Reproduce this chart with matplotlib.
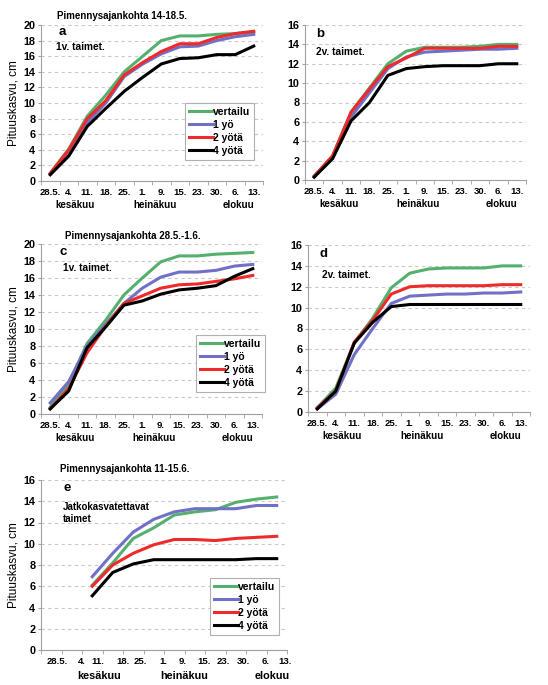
import numpy as np
import matplotlib.pyplot as plt

plt.rcParams['font.family'] = ['Liberation Sans', 'DejaVu Sans']
plt.rcParams['font.weight'] = 'bold'

dates = ['28.5.', '4.', '11.', '18.', '25.', '1.', '9.', '15.', '23.', '30.', '6.', '13.']
months = ['kesäkuu', 'heinäkuu', 'elokuu']
names = ['vertailu', '1 yö', '2 yötä', '4 yötä']
colors = ['#55b06e', '#7070c6', '#ee2a2a', '#000000']

# a: 14-18.5., 1v. taimet
a_vertailu = [1.0, 4.1, 8.3, 11.0, 14.0, 16.0, 18.0, 18.6, 18.6, 18.8, 18.9, 19.1]
a_1yo = [0.9, 3.8, 7.5, 10.0, 13.4, 15.0, 16.3, 17.2, 17.3, 18.0, 18.5, 18.8]
a_2yota = [1.0, 4.0, 8.0, 10.3, 13.6, 15.2, 16.6, 17.6, 17.6, 18.4, 18.9, 19.2]
a_4yota = [0.8, 3.2, 7.0, 9.3, 11.5, 13.3, 15.0, 15.7, 15.8, 16.2, 16.2, 17.3]

# b: 14-18.5., 2v. taimet
b_vertailu = [0.3, 2.5, 7.0, 9.5, 12.0, 13.3, 13.7, 13.7, 13.7, 13.8, 14.0, 14.0]
b_1yo = [0.4, 2.4, 6.5, 9.0, 11.5, 12.7, 13.2, 13.3, 13.4, 13.5, 13.5, 13.6]
b_2yota = [0.4, 2.5, 7.0, 9.4, 11.7, 12.6, 13.6, 13.6, 13.6, 13.6, 13.8, 13.8]
b_4yota = [0.3, 2.2, 6.1, 8.0, 10.8, 11.5, 11.7, 11.8, 11.8, 11.8, 12.0, 12.0]

# c: 28.5.-1.6., 1v. taimet
c_vertailu = [0.8, 3.5, 8.3, 11.0, 14.0, 16.0, 17.9, 18.6, 18.6, 18.8, 18.9, 19.0]
c_1yo = [1.3, 3.8, 8.0, 10.5, 13.0, 14.8, 16.1, 16.7, 16.7, 16.9, 17.4, 17.6]
c_2yota = [0.6, 3.0, 7.2, 10.3, 13.0, 13.9, 14.8, 15.2, 15.3, 15.6, 15.9, 16.3]
c_4yota = [0.6, 2.7, 7.8, 10.2, 12.8, 13.3, 14.1, 14.6, 14.8, 15.1, 16.2, 17.1]

# d: 28.5.-1.6., 2v. taimet
d_vertailu = [0.4, 2.3, 6.6, 9.0, 11.9, 13.3, 13.7, 13.8, 13.8, 13.8, 14.0, 14.0]
d_1yo = [0.3, 1.7, 5.5, 8.0, 10.4, 11.1, 11.2, 11.3, 11.3, 11.4, 11.4, 11.5]
d_2yota = [0.4, 2.0, 6.7, 8.8, 11.3, 12.0, 12.1, 12.1, 12.1, 12.1, 12.2, 12.2]
d_4yota = [0.3, 2.0, 6.6, 8.6, 10.1, 10.3, 10.3, 10.3, 10.3, 10.3, 10.3, 10.3]

# e: 11-15.6., jatkokasvatettavat taimet
nan = np.nan
e_vertailu = [nan, nan, 6.1, 8.2, 10.5, 11.5, 12.7, 13.0, 13.2, 13.9, 14.2, 14.4]
e_1yo = [nan, nan, 6.9, 9.1, 11.1, 12.3, 13.0, 13.3, 13.3, 13.3, 13.6, 13.6]
e_2yota = [nan, nan, 6.0, 8.0, 9.1, 9.9, 10.4, 10.4, 10.3, 10.5, 10.6, 10.7]
e_4yota = [nan, nan, 5.1, 7.3, 8.1, 8.5, 8.5, 8.5, 8.5, 8.5, 8.6, 8.6]

W, H = 548, 685


def box(l, t, r, b):
    return [l / W, 1 - b / H, (r - l) / W, (b - t) / H]


def px(x, y):
    return x / W, 1 - y / H


fig = plt.figure(figsize=(5.48, 6.85), dpi=100)
x = np.arange(len(dates))
gray = '#a0a0a0'


def panel(rect, ymax, series, month_pos, label_pos=None, month_size=7, month_off=-17):
    ax = fig.add_axes(rect)
    for vals, col, nm in zip(series, colors, names):
        ax.plot(x, vals, color=col, lw=2.2, label=nm)
    ax.set_xlim(-0.5, 11.5)
    ax.set_ylim(0, ymax)
    ax.set_yticks(range(0, ymax + 1, 2))
    ax.set_xticks(x if label_pos is None else label_pos)
    ax.set_xticklabels(dates, fontsize=6.8)
    ax.set_xticks(np.arange(-0.5, 12, 1), minor=True)
    ax.tick_params(axis='x', which='major', length=0, pad=5)
    ax.tick_params(axis='x', which='minor', length=3, color=gray)
    ax.tick_params(axis='y', length=2, color=gray, labelsize=7.8, pad=2)
    ax.yaxis.grid(True, ls=(0, (3, 3)), color='#c8c8c8', lw=0.8)
    ax.set_axisbelow(True)
    for s in ['top', 'right']:
        ax.spines[s].set_visible(False)
    for s in ['left', 'bottom']:
        ax.spines[s].set_color(gray)
        ax.spines[s].set_linewidth(0.8)
    for m, mx in zip(months, month_pos):
        ax.annotate(m, xy=(mx, 0), xycoords=ax.get_xaxis_transform(),
                    xytext=(0, month_off), textcoords='offset points',
                    ha='center', va='center', fontsize=month_size)
    return ax


def legend(ax, left, top):
    leg = ax.legend(loc='upper left', bbox_to_anchor=px(left, top),
                    bbox_transform=fig.transFigure, fontsize=7.5,
                    handlelength=2.3, handletextpad=0.05, labelspacing=0.3,
                    borderpad=0.35, borderaxespad=0, fancybox=False, framealpha=1)
    leg.get_frame().set_edgecolor('#b0b0b0')
    leg.get_frame().set_linewidth(0.8)


ax_a = panel(box(41, 25, 263, 181), 20, [a_vertailu, a_1yo, a_2yota, a_4yota], (1.35, 5.65, 10.15))
legend(ax_a, 185, 103)
ax_b = panel(box(305, 25, 526, 180), 16, [b_vertailu, b_1yo, b_2yota, b_4yota], (1.35, 5.65, 10.15))
ax_c = panel(box(41, 244, 262, 414), 20, [c_vertailu, c_1yo, c_2yota, c_4yota], (1.35, 5.65, 10.15))
legend(ax_c, 196, 335)
ax_d = panel(box(308, 245, 530, 412), 16, [d_vertailu, d_1yo, d_2yota, d_4yota], (1.35, 5.65, 10.15))
e_label_pos = [0.27, 1.49, 2.25, 3.49, 4.34, 5.48, 6.42, 7.43, 8.41, 9.35, 10.48, 11.42]
ax_e = panel(box(41, 480, 287, 650), 16, [e_vertailu, e_1yo, e_2yota, e_4yota],
             (2.33, 6.48, 10.8), label_pos=e_label_pos, month_size=7.8, month_off=-19)
legend(ax_e, 210, 578)

for ax in (ax_a, ax_c, ax_e):
    ax.set_ylabel('Pituuskasvu, cm', fontsize=8.5, labelpad=3)

fig.text(*px(57, 16), 'Pimennysajankohta 14-18.5.', fontsize=7, va='center')
fig.text(*px(65, 236), 'Pimennysajankohta 28.5.-1.6.', fontsize=7, va='center')
fig.text(*px(60, 469), 'Pimennysajankohta 11-15.6.', fontsize=7, va='center')

for lx, ly, ch in [(59, 32, 'a'), (316, 34, 'b'), (60, 252, 'c'), (320, 254, 'd'), (63, 488, 'e')]:
    fig.text(*px(lx, ly), ch, fontsize=9.5, va='center')

fig.text(*px(56, 47), '1v. taimet.', fontsize=7.3, va='center')
fig.text(*px(316, 52), '2v. taimet.', fontsize=7.3, va='center')
fig.text(*px(63, 268), '1v. taimet.', fontsize=7.3, va='center')
fig.text(*px(322, 275), '2v. taimet.', fontsize=7.3, va='center')
fig.text(*px(63, 513), 'Jatkokasvatettavat\ntaimet', fontsize=7, va='center', linespacing=1.15)

fig.savefig('out.png', dpi=100)
